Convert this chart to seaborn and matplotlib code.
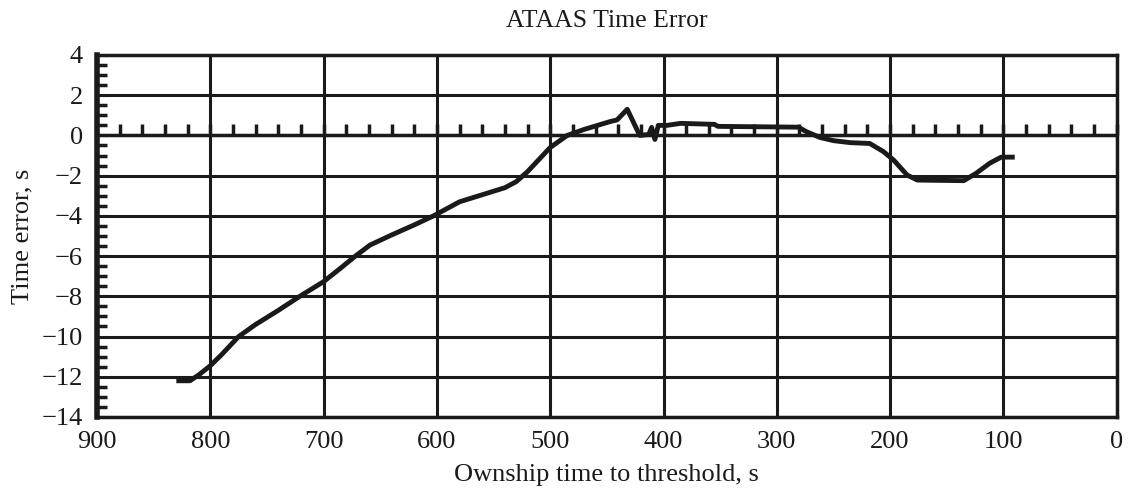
import numpy as np
import matplotlib
matplotlib.use("Agg")
import matplotlib.pyplot as plt
from matplotlib.ticker import MultipleLocator
import seaborn as sns

# values
time_to_threshold = [830, 818, 810, 800, 790, 775, 760, 740, 721, 700, 685, 672,
                     659, 640, 620, 603, 580, 560, 540, 530, 520, 510, 500, 485,
                     470, 447, 441, 432, 421, 413, 410.5, 407.6, 404.6, 397, 385,
                     355, 352, 281, 274, 262, 250, 235, 218, 206, 197, 185, 176,
                     135, 124, 112, 102, 90]
time_error = [-12.2, -12.2, -11.9, -11.45, -10.9, -10.0, -9.4, -8.7, -8.0, -7.27,
              -6.6, -6.0, -5.45, -4.95, -4.45, -4.0, -3.3, -2.95, -2.6, -2.3,
              -1.8, -1.2, -0.6, 0.0, 0.3, 0.69, 0.77, 1.3, 0.0, 0.05, 0.4, -0.2,
              0.5, 0.5, 0.6, 0.55, 0.45, 0.41, 0.19, -0.1, -0.26, -0.36, -0.4,
              -0.8, -1.22, -1.97, -2.22, -2.25, -1.88, -1.38, -1.08, -1.08]

sns.set_theme(style="white")
plt.rcParams["font.family"] = ["Liberation Serif", "DejaVu Serif"]
plt.rcParams["axes.unicode_minus"] = True

fig, ax = plt.subplots(figsize=(11.28, 4.98), dpi=100)
fig.subplots_adjust(left=0.086, right=0.990, top=0.8896, bottom=0.1627)

sns.lineplot(x=time_to_threshold, y=time_error, ax=ax, color="#1a1a1a",
             linewidth=3.5, sort=False, estimator=None, solid_capstyle="butt")

ax.set_xlim(900, 0)
ax.set_ylim(-14, 4)
ax.xaxis.set_major_locator(MultipleLocator(100))
ax.yaxis.set_major_locator(MultipleLocator(2))
ax.yaxis.set_minor_locator(MultipleLocator(0.5))
ax.grid(True, which="major", color="#1a1a1a", linewidth=2.2)
ax.axhline(0, color="#1a1a1a", linewidth=2.5)

for s in ax.spines.values():
    s.set_color("#1a1a1a")
    s.set_linewidth(2.5)
ax.spines["left"].set_linewidth(4)

ax.tick_params(axis="x", which="major", length=0, pad=10, labelsize=19, colors="#1a1a1a")
ax.tick_params(axis="y", which="major", direction="in", length=8, width=2.5,
               pad=10, labelsize=19, colors="#1a1a1a")
ax.tick_params(axis="y", which="minor", direction="in", length=7, width=2.5,
               left=True, color="#1a1a1a")

# small upward ticks along the zero line
zero_axis = ax.secondary_xaxis(14 / 18)
zero_axis.xaxis.set_major_locator(MultipleLocator(20))
zero_axis.tick_params(axis="x", direction="out", length=8, width=2.5, color="#1a1a1a",
                      labeltop=False, labelbottom=False)
for s in zero_axis.spines.values():
    s.set_visible(False)

ax.set_xlabel("Ownship time to threshold, s", fontsize=19, color="#1a1a1a", labelpad=8)
ax.set_ylabel("Time error, s", fontsize=19, color="#1a1a1a", labelpad=6)
ax.set_title("ATAAS Time Error", fontsize=18.5, color="#1a1a1a", pad=20)

fig.savefig("out.png", dpi=100, facecolor="white")
